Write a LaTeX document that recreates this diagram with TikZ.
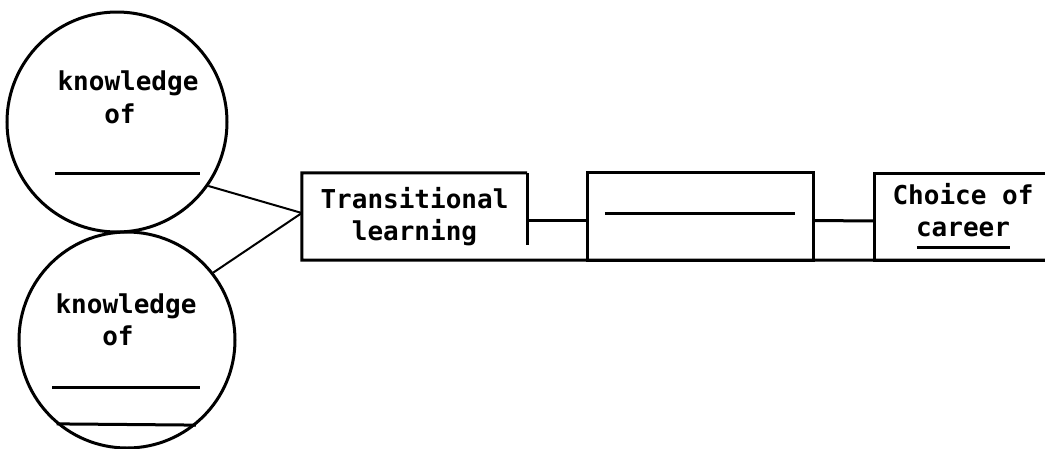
\documentclass[tikz,border=0pt]{standalone}
\usepackage{fontspec}
\newfontfamily\tw{DejaVu Sans Mono Bold}
\tikzset{
  ln/.style={line width=3pt},
  circ/.style={circle, draw, ln, inner sep=0pt},
  lbl/.style={font=\tw\fontsize{26}{32}\selectfont, inner sep=0pt, align=center},
  boxx/.style={rectangle, inner sep=0pt, minimum height=87pt, minimum width=225pt},
}
\begin{document}
\begin{tikzpicture}[x=1pt,y=-1pt]
\useasboundingbox (0,0) rectangle (1045,448);
\clip (0,0) rectangle (1045,448);
% circles
\node[circ, minimum size=220pt] (c1) at (117,122) {};
\node[circ, minimum size=216pt] (c2) at (127,340) {};
\node[lbl] (k1) at (128,83) {knowledge};
\node[lbl] (o1) at (120,114) {of};
\coordinate (u1a) at (55,173);
\coordinate (u1b) at (200,173);
\draw[ln] (u1a) -- (u1b);
\node[lbl] (k2) at (126,306) {knowledge};
\node[lbl] (o2) at (118,336) {of};
\coordinate (u2a) at (52,387);
\coordinate (u2b) at (200,387);
\draw[ln] (u2a) -- (u2b);
\draw[ln] (c2.230.6) -- (c2.309.4);
% boxes
\node[boxx] (b1) at (414.5,216.5) {};
\node[boxx] (b2) at (700.5,216.5) {};
\node[boxx] (b3) at (987.5,217) {};
\coordinate (baseend) at (1045,260);
\draw[ln] (b1.north east) -- (b1.north west) -- (b1.south west) -- (baseend);
\draw[ln] (b1.north east) -- ([yshift=15pt]b1.south east);
\draw[ln] (b2.south west) rectangle (b2.north east);
\draw[ln] (b3.north east) -- (b3.north west) -- (b3.south west) -- (b3.south east);
\node[lbl] (t1) at (b1) {Transitional\\learning};
\node[lbl] (t3) at (963,216) {Choice of\\career\llap{\rule[-12pt]{93pt}{2.4pt}}};
\draw[ln] ([xshift=17pt,yshift=3.5pt]b2.west) -- ([xshift=-18pt,yshift=3.5pt]b2.east);
% connectors
\draw[ln] ([yshift=-3.5pt]b1.east) -- ([yshift=-3.5pt]b2.west);
\draw[ln] ([yshift=-4pt]b2.east) -- ([yshift=-4pt]b3.west);
\draw[line width=2pt] (c1.-35) -- ([yshift=3.5pt]b1.west);
\draw[line width=2pt] (c2.38) -- ([yshift=3.5pt]b1.west);
\end{tikzpicture}
\end{document}
